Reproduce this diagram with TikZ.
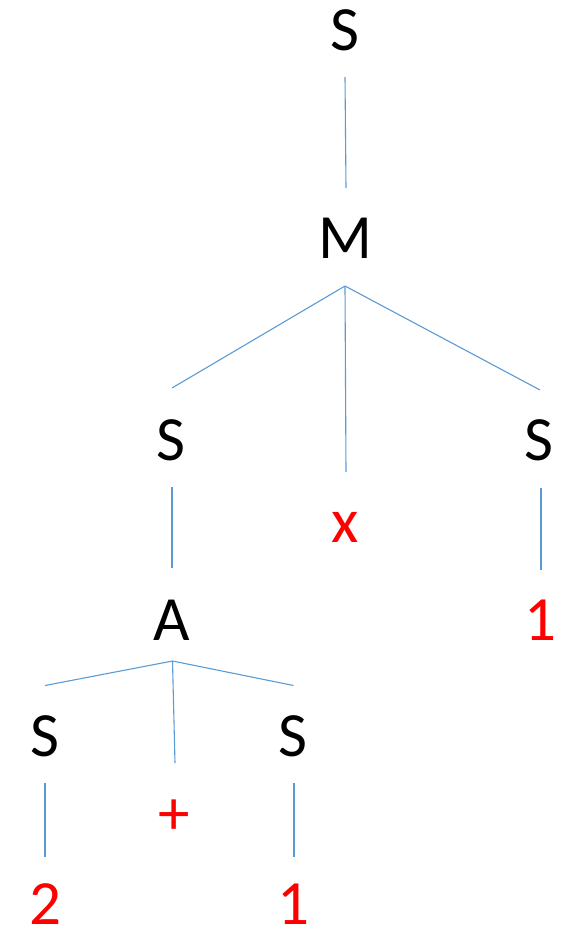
\documentclass[tikz,border=0pt]{standalone}
\usepackage{fontspec}
\setmainfont{Carlito}
\definecolor{edgeblue}{HTML}{5B9BD5}
\begin{document}
\begin{tikzpicture}[x=1pt,y=-1pt,
  nt/.style={inner sep=0pt,font=\fontsize{63}{70}\selectfont,text=black},
  tm/.style={inner sep=0pt,font=\fontsize{63}{70}\selectfont,text=red},
  edge/.style={draw=edgeblue,line width=1.1pt}]
\useasboundingbox (0,0) rectangle (574,930);
% nodes
\node[nt] (S0) at (345,30) {S};
\node[nt] (M) at (345,238) {M};
\node[nt] (S1) at (171,440) {S};
\node[tm] (X) at (345,527) {x};
\node[nt] (S2) at (539,440) {S};
\node[tm] (R1) at (540,620) {1};
\node[nt] (A) at (172,620) {A};
\node[nt] (S3) at (45,736) {S};
\node[tm] (P) at (174.5,817) {+};
\node[nt] (S4) at (293,736) {S};
\node[tm] (T2) at (45,904) {2};
\node[tm] (T1) at (293,904) {1};
% connector ends
\coordinate (s0b) at (345,77);
\coordinate (mt) at (346,188);
\coordinate (ma) at (345,286);
\coordinate (s1t) at (172,388);
\coordinate (xt) at (346,472);
\coordinate (s2t) at (540,390);
\coordinate (s1b) at (172,487);
\coordinate (at) at (172,568);
\coordinate (s2b) at (541,488);
\coordinate (r1t) at (541,570);
\coordinate (aa) at (172.5,661);
\coordinate (s3t) at (45,685.5);
\coordinate (pt) at (175,763);
\coordinate (s4t) at (293.5,685.5);
\coordinate (s3b) at (45,783);
\coordinate (t2t) at (45,857);
\coordinate (s4b) at (294,783);
\coordinate (t1t) at (294,857);
% connectors
\draw[edge] (s0b) -- (mt);
\draw[edge] (ma) -- (s1t);
\draw[edge] (ma) -- (xt);
\draw[edge] (ma) -- (s2t);
\draw[edge] (s1b) -- (at);
\draw[edge] (s2b) -- (r1t);
\draw[edge] (aa) -- (s3t);
\draw[edge] (aa) -- (pt);
\draw[edge] (aa) -- (s4t);
\draw[edge] (s3b) -- (t2t);
\draw[edge] (s4b) -- (t1t);
\end{tikzpicture}
\end{document}
